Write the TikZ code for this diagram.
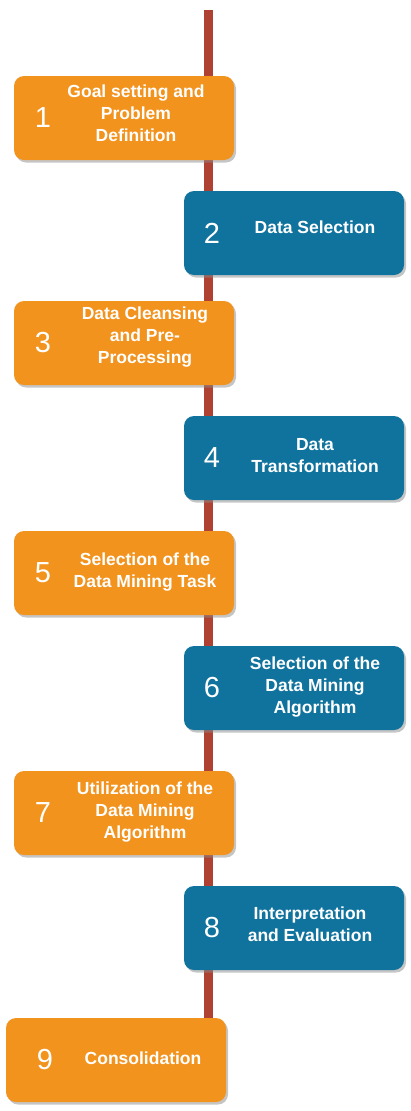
\documentclass[tikz,border=0pt]{standalone}
\usepackage{fontspec}
\setmainfont{Liberation Sans}
\usetikzlibrary{shadows,backgrounds}
\definecolor{orng}{HTML}{F2931E}
\definecolor{blu}{HTML}{10739E}
\definecolor{spine}{HTML}{AE4132}
\tikzset{
  stepbox/.style={rectangle, rounded corners=10pt, minimum width=220pt, minimum height=84pt, inner sep=0pt, draw=none,
    drop shadow={shadow xshift=2pt, shadow yshift=-2.5pt, fill=black!45, opacity=0.5}},
  obox/.style={stepbox, fill=orng},
  bbox/.style={stepbox, fill=blu},
  num/.style={text=white, font=\fontsize{29}{32}\selectfont, inner sep=0pt},
  lbl/.style={text=white, font=\fontsize{17.5}{22}\selectfont\bfseries, align=center, inner sep=0pt},
}
\begin{document}
\begin{tikzpicture}[x=1pt,y=-1pt]
\useasboundingbox (0,0) rectangle (410,1111);
\node[obox] (b1) at (124,118) {};
\node[bbox] (b2) at (294,233) {};
\node[obox] (b3) at (124,343) {};
\node[bbox] (b4) at (294,458) {};
\node[obox] (b5) at (124,573) {};
\node[bbox] (b6) at (294,688) {};
\node[obox] (b7) at (124,813) {};
\node[bbox] (b8) at (294,928) {};
\node[obox] (b9) at (116,1060) {};
\coordinate (top) at (208.5,10);
\begin{scope}[on background layer]
\draw[spine, line width=9pt] (top) -- (top |- b9.north);
\end{scope}
\node[num] (n1) at (43,118) {1};
\node[num] (n2) at (212,233) {2};
\node[num] (n3) at (43,343) {3};
\node[num] (n4) at (212,458) {4};
\node[num] (n5) at (43,573) {5};
\node[num] (n6) at (212,688) {6};
\node[num] (n7) at (43,813) {7};
\node[num] (n8) at (212,928) {8};
\node[num] (n9) at (45,1060) {9};
\node[lbl] (t1) at (136,113) {Goal setting and\\Problem\\Definition};
\node[lbl] (t2) at (315,227) {Data Selection};
\node[lbl] (t3) at (145,337) {Data Cleansing\\and Pre-\\Processing};
\node[lbl] (t4) at (315,456) {Data\\Transformation};
\node[lbl] (t5) at (145,572) {Selection of the\\Data Mining Task};
\node[lbl] (t6) at (315,687) {Selection of the\\Data Mining\\Algorithm};
\node[lbl] (t7) at (145,812) {Utilization of the\\Data Mining\\Algorithm};
\node[lbl] (t8) at (310,924) {Interpretation\\and Evaluation};
\node[lbl] (t9) at (143,1058) {Consolidation};
\end{tikzpicture}
\end{document}
